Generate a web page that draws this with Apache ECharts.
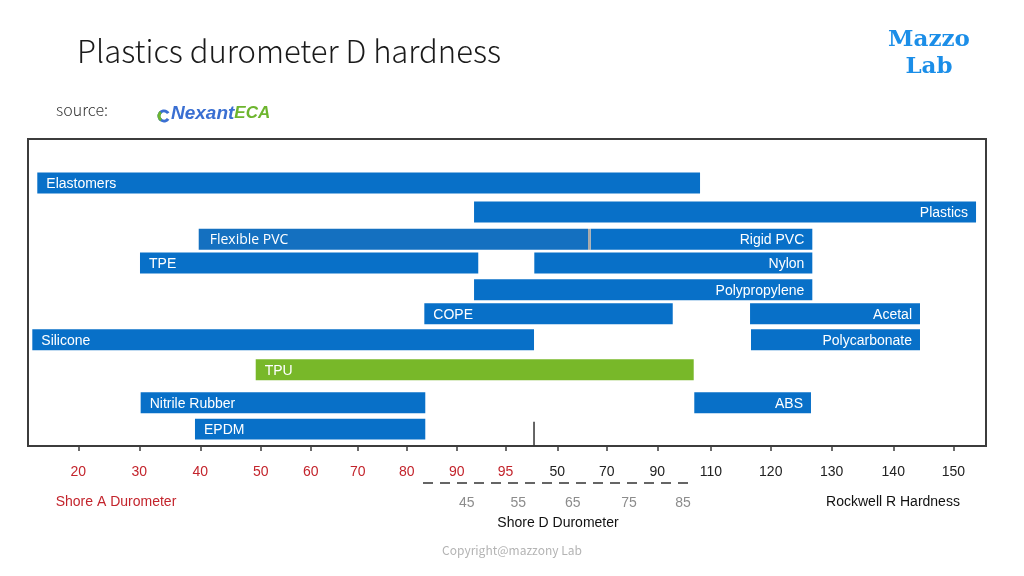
<!DOCTYPE html>
<html lang="en">
<head>
    <meta charset="UTF-8">
    <title>Plastics durometer D hardness</title>
    <script src="https://cdn.jsdelivr.net/npm/echarts@6.0.0/dist/echarts.min.js"></script>
    <style>
        html, body { margin: 0; padding: 0; background: #fff; }
        #main { width: 1024px; height: 576px; }
    </style>
</head>
<body>
<div id="main"></div>
<script>
    // x is a combined scale (Shore A / Shore D / Rockwell R), given in % of the plot width
    var tickPos = [5.25, 11.62, 17.99, 24.29, 29.51, 34.42, 39.53, 44.75, 49.84, 55.25, 60.41, 65.69, 71.29, 77.53, 83.89, 90.32, 96.59];
    var tickLabels = ['20', '30', '40', '50', '60', '70', '80', '90', '95', '50', '70', '90', '110', '120', '130', '140', '150'];
    var shoreACount = 9; // first ticks are Shore A (red)

    var shoreDPos = [45.79, 51.18, 56.86, 62.73, 68.37];
    var shoreDLabels = ['45', '55', '65', '75', '85'];

    // bars (row = vertical slot, 0 top .. 12 bottom)
    var names  = ['Elastomers', 'Plastics', 'Flexible PVC', 'Rigid PVC', 'TPE', 'Nylon', 'Polypropylene', 'COPE', 'Acetal', 'Silicone', 'Polycarbonate', 'TPU', 'Nitrile Rubber', 'ABS', 'EPDM'];
    var starts = [0.97, 46.56, 17.82, 58.74, 11.69, 52.85, 46.56, 41.37, 75.37, 0.45, 75.47, 23.77, 11.76, 69.55, 17.43];
    var ends   = [70.15, 98.96, 58.46, 81.87, 47.00, 81.87, 81.87, 67.30, 93.11, 52.82, 93.11, 69.49, 41.47, 81.73, 41.47];
    var rows   = [1.72, 2.85, 3.92, 3.92, 4.85, 4.85, 5.89, 6.83, 6.83, 7.85, 7.85, 9.02, 10.31, 10.31, 11.34];
    var sides  = ['left', 'right', 'left', 'right', 'left', 'right', 'right', 'left', 'right', 'left', 'right', 'left', 'left', 'right', 'left'];

    // grey seam between Flexible PVC and Rigid PVC
    var seams = [[58.46, 58.74, 3.92]];
    // reference marker at the bottom of the plot
    var marker = [[52.82, 11.05], [52.82, 12]];

    var BLUE = '#0870c8', GREEN = '#78b829', RED = '#c3242c';
    var barH = 0.82;

    var barData = names.map(function (n, i) {
        return [starts[i], ends[i], rows[i], n, sides[i]];
    });

    function labelFor(v) {
        for (var i = 0; i < tickPos.length; i++) {
            if (Math.abs(tickPos[i] - v) < 0.01) return i;
        }
        return -1;
    }
    function labelForD(v) {
        for (var i = 0; i < shoreDPos.length; i++) {
            if (Math.abs(shoreDPos[i] - v) < 0.01) return shoreDLabels[i];
        }
        return '';
    }

    var myChart = echarts.init(document.getElementById('main'));
    myChart.setOption({
        animation: false,
        grid: {
            left: 28, right: 38, top: 139, bottom: 130,
            show: true, borderColor: '#3c3c3c', borderWidth: 2, backgroundColor: '#fff'
        },
        xAxis: [{
            type: 'value', min: 0, max: 100, position: 'bottom',
            splitLine: { show: false },
            axisLine: { show: true, onZero: false, lineStyle: { color: '#3c3c3c', width: 2 } },
            axisTick: { show: true, inside: false, length: 5, customValues: tickPos, lineStyle: { color: '#3c3c3c', width: 1.5 } },
            axisLabel: {
                customValues: tickPos,
                margin: 19,
                fontFamily: 'Liberation Sans',
                fontSize: 14,
                formatter: function (v) { var i = labelFor(v); return i < 0 ? '' : tickLabels[i]; },
                color: function (v) { return labelFor(v) < shoreACount ? RED : '#222'; }
            }
        }, {
            type: 'value', min: 0, max: 100, position: 'bottom',
            splitLine: { show: false },
            axisLine: { show: false, onZero: false },
            axisTick: { show: false },
            axisLabel: {
                customValues: shoreDPos,
                margin: 50,
                fontFamily: 'Liberation Sans',
                fontSize: 14,
                color: '#8c8c8c',
                formatter: labelForD
            }
        }],
        yAxis: {
            type: 'value', min: 0, max: 12, inverse: true, show: false
        },
        graphic: [
            { type: 'text', left: 77, top: 36, style: { text: 'Plastics durometer D hardness', fontFamily: 'Noto Sans CJK SC', fontWeight: 300, fontSize: 31, fill: '#1a1a1a' } },
            { type: 'text', left: 56, top: 102, style: { text: 'source:', fontFamily: 'Noto Sans CJK SC', fontWeight: 300, fontSize: 16, fill: '#333' } },
            { type: 'arc', shape: { cx: 164, cy: 116, r: 5, startAngle: 0.6, endAngle: 5.7 }, style: { stroke: '#3a6fd2', lineWidth: 3, fill: null } },
            { type: 'arc', shape: { cx: 164, cy: 116, r: 5, startAngle: 2.2, endAngle: 4.0 }, style: { stroke: '#6db52e', lineWidth: 3, fill: null } },
            {
                type: 'text', left: 171, top: 104,
                style: {
                    text: '{a|Nexant}{b|ECA}',
                    rich: {
                        a: { fontFamily: 'Liberation Sans', fontWeight: 'bold', fontStyle: 'italic', fontSize: 19, fill: '#3a6fd2', color: '#3a6fd2' },
                        b: { fontFamily: 'Liberation Sans', fontWeight: 'bold', fontStyle: 'italic', fontSize: 17, fill: '#6db52e', color: '#6db52e' }
                    }
                }
            },
            { type: 'text', x: 929, y: 40, style: { text: 'Mazzo', textAlign: 'center', textVerticalAlign: 'middle', fontFamily: 'DejaVu Serif', fontWeight: 'bold', fontSize: 23, fill: '#1b8ee8' } },
            { type: 'text', x: 929, y: 67, style: { text: 'Lab', textAlign: 'center', textVerticalAlign: 'middle', fontFamily: 'DejaVu Serif', fontWeight: 'bold', fontSize: 23, fill: '#1b8ee8' } },
            { type: 'line', shape: { x1: 423, y1: 483, x2: 692, y2: 483 }, style: { stroke: '#333', lineWidth: 1.5, lineDash: [10, 7] } },
            { type: 'text', x: 116, y: 502, style: { text: 'Shore A Durometer', textAlign: 'center', textVerticalAlign: 'middle', fontFamily: 'Liberation Sans', fontSize: 14, fill: RED } },
            { type: 'text', x: 558, y: 523, style: { text: 'Shore D Durometer', textAlign: 'center', textVerticalAlign: 'middle', fontFamily: 'Liberation Sans', fontSize: 14, fill: '#111' } },
            { type: 'text', x: 893, y: 502, style: { text: 'Rockwell R Hardness', textAlign: 'center', textVerticalAlign: 'middle', fontFamily: 'Liberation Sans', fontSize: 14, fill: '#111' } },
            { type: 'text', x: 512, y: 550, style: { text: 'Copyright@mazzony Lab', textAlign: 'center', textVerticalAlign: 'middle', fontFamily: 'Noto Sans CJK SC', fontSize: 12, fill: '#b4b4b4' } }
        ],
        series: [{
            type: 'custom',
            data: barData,
            encode: { x: [0, 1], y: 2 },
            renderItem: function (params, api) {
                var s = api.coord([api.value(0), api.value(2)]);
                var e = api.coord([api.value(1), api.value(2)]);
                var h = api.size([0, barH])[1];
                var name = barData[params.dataIndex][3];
                var side = barData[params.dataIndex][4];
                var flex = name === 'Flexible PVC';
                var fill = name === 'TPU' ? GREEN : (flex ? '#1470c0' : BLUE);
                return {
                    type: 'group',
                    children: [{
                        type: 'rect',
                        shape: { x: s[0], y: s[1] - h / 2, width: e[0] - s[0], height: h },
                        style: { fill: fill }
                    }, {
                        type: 'text',
                        x: side === 'left' ? s[0] + (flex ? 11 : 9) : e[0] - 8,
                        y: s[1] + 1,
                        style: {
                            text: name,
                            textAlign: side === 'left' ? 'left' : 'right',
                            textVerticalAlign: 'middle',
                            fontFamily: flex ? 'Open Sans' : 'Liberation Sans',
                            fontSize: 14,
                            fill: '#fff'
                        }
                    }]
                };
            }
        }, {
            type: 'custom',
            data: seams,
            encode: { x: [0, 1], y: 2 },
            renderItem: function (params, api) {
                var s = api.coord([api.value(0), api.value(2)]);
                var e = api.coord([api.value(1), api.value(2)]);
                var h = api.size([0, barH])[1];
                return { type: 'rect', shape: { x: s[0], y: s[1] - h / 2, width: e[0] - s[0], height: h }, style: { fill: '#a8a8a8' } };
            }
        }, {
            type: 'line',
            data: marker,
            symbol: 'none',
            lineStyle: { color: '#333', width: 1.5 }
        }]
    });
</script>
</body>
</html>
